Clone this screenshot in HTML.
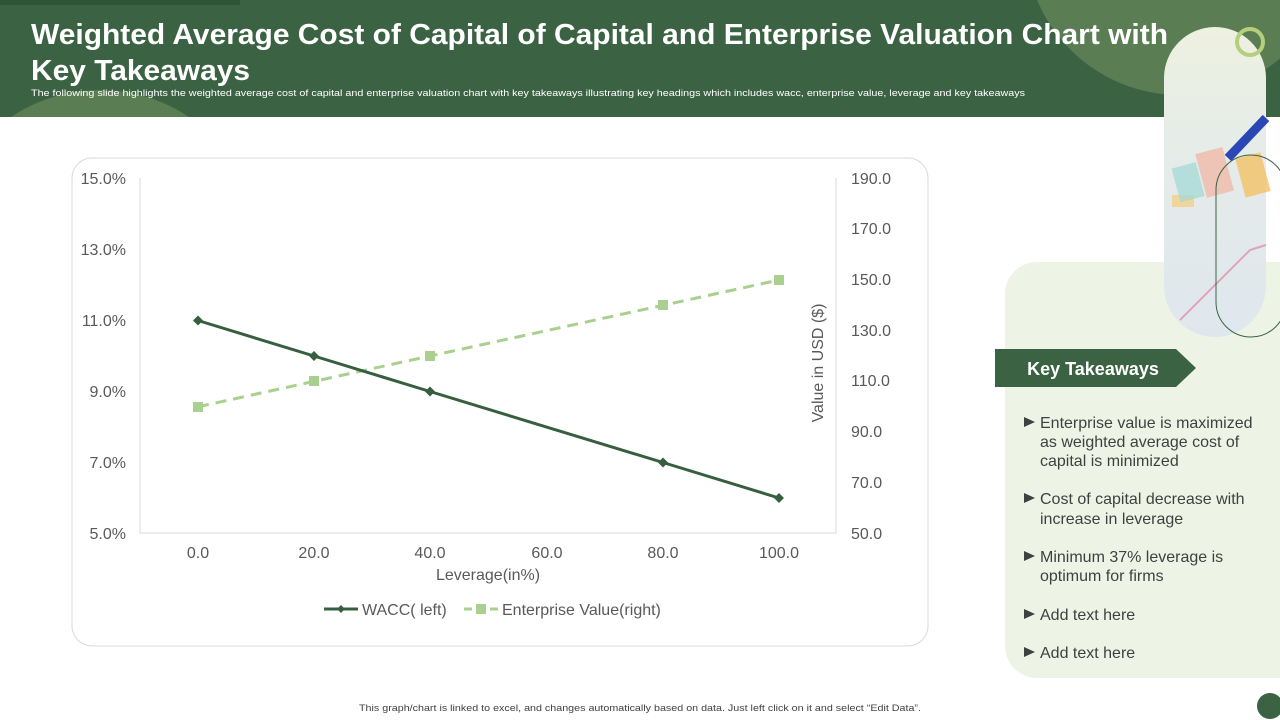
<!DOCTYPE html>
<html><head><meta charset="utf-8"><style>
html,body{margin:0;padding:0;width:1280px;height:720px;overflow:hidden;background:#fff;font-family:"Liberation Sans",sans-serif}
svg{display:block}
</style></head><body>
<svg width="1280" height="720" viewBox="0 0 1280 720" xmlns="http://www.w3.org/2000/svg" font-family="Liberation Sans, sans-serif">
<defs>
<clipPath id="hdr"><rect x="0" y="0" width="1280" height="117"/></clipPath>
<linearGradient id="img" x1="0" y1="0" x2="0" y2="1">
<stop offset="0" stop-color="#eef1e0"/><stop offset="0.35" stop-color="#e6ece8"/><stop offset="1" stop-color="#dfe7ee"/></linearGradient>
</defs>
<rect x="0" y="0" width="1280" height="117" fill="#3b6343"/>
<g clip-path="url(#hdr)">
<circle cx="100" cy="250" r="160" fill="#5a7d53"/>
<circle cx="1180" cy="-60" r="155" fill="#5a7d53"/>
</g>
<rect x="0" y="0" width="240" height="5" fill="#2f5538"/>
<text x="31" y="44" font-size="29" font-weight="bold" fill="#fff" textLength="1137" lengthAdjust="spacingAndGlyphs">Weighted Average Cost of Capital of Capital and Enterprise Valuation Chart with</text>
<text x="31" y="80" font-size="29" font-weight="bold" fill="#fff" textLength="219" lengthAdjust="spacingAndGlyphs">Key Takeaways</text>
<text x="31" y="96" font-size="9.5" fill="#fff" textLength="994" lengthAdjust="spacingAndGlyphs">The following slide highlights the weighted average cost of capital and enterprise valuation chart with key takeaways illustrating key headings which includes wacc, enterprise value, leverage and key takeaways</text>

<!-- right panel -->
<rect x="1005" y="262" width="320" height="416" rx="32" fill="#eef4e5"/>
<rect x="1164" y="27" width="102" height="310" rx="51" fill="url(#img)"/>
<rect x="1172" y="195" width="22" height="12" fill="#f3cf8a" opacity="0.8"/>
<rect x="1175" y="165" width="25" height="35" fill="#9fd8d4" opacity="0.7" transform="rotate(-15 1187 180)"/>
<rect x="1200" y="150" width="28" height="45" fill="#f1b49e" opacity="0.7" transform="rotate(-15 1214 170)"/>
<rect x="1240" y="155" width="26" height="40" fill="#f4c266" opacity="0.8" transform="rotate(-15 1253 175)"/>
<line x1="1228" y1="158" x2="1266" y2="118" stroke="#2a47b5" stroke-width="9"/>
<polyline points="1180,320 1220,280 1250,250 1266,245" fill="none" stroke="#e0a4b8" stroke-width="2"/>
<rect x="1216" y="155" width="70" height="182" rx="35" fill="none" stroke="#3b6343" stroke-width="1"/>
<circle cx="1250" cy="42" r="13" fill="none" stroke="#b5cf7a" stroke-width="4"/>
<polygon points="995,349 1176,349 1196,368 1176,387 995,387" fill="#3b6343"/>
<text x="1093" y="375" font-size="18" font-weight="bold" fill="#fff" text-anchor="middle">Key Takeaways</text>
<g font-size="16" fill="#404040">
<g fill="#404040">
<polygon points="1024,417 1035,422 1024,427"/>
<polygon points="1024,493 1035,498 1024,503"/>
<polygon points="1024,551 1035,556 1024,561"/>
<polygon points="1024,609 1035,614 1024,619"/>
<polygon points="1024,647 1035,652 1024,657"/>
</g>
<text x="1040" y="428">Enterprise value  is maximized</text>
<text x="1040" y="447">as weighted average cost of</text>
<text x="1040" y="466">capital is minimized</text>
<text x="1040" y="504">Cost of capital decrease with</text>
<text x="1040" y="524">increase in leverage</text>
<text x="1040" y="562">Minimum  37% leverage is</text>
<text x="1040" y="581">optimum for firms</text>
<text x="1040" y="620">Add text here</text>
<text x="1040" y="658">Add text here</text>
</g>
<circle cx="1270" cy="706" r="13" fill="#3b6343"/>

<!-- chart -->
<rect x="72" y="158" width="856" height="488" rx="20" fill="#fff" stroke="#d9d9d9" stroke-width="1"/>
<line x1="140" y1="178" x2="140" y2="533" stroke="#d9d9d9"/>
<line x1="836" y1="178" x2="836" y2="533" stroke="#d9d9d9"/>
<line x1="140" y1="533" x2="836" y2="533" stroke="#d9d9d9"/>
<g font-size="16" fill="#595959" text-anchor="end">
<text x="126" y="184">15.0%</text><text x="126" y="255">13.0%</text><text x="126" y="326">11.0%</text>
<text x="126" y="397">9.0%</text><text x="126" y="468">7.0%</text><text x="126" y="539">5.0%</text>
</g>
<g font-size="16" fill="#595959">
<text x="851" y="184">190.0</text><text x="851" y="234">170.0</text><text x="851" y="285">150.0</text>
<text x="851" y="336">130.0</text><text x="851" y="386">110.0</text><text x="851" y="437">90.0</text>
<text x="851" y="488">70.0</text><text x="851" y="539">50.0</text>
</g>
<g font-size="16" fill="#595959" text-anchor="middle">
<text x="198" y="558">0.0</text><text x="314" y="558">20.0</text><text x="430" y="558">40.0</text>
<text x="547" y="558">60.0</text><text x="663" y="558">80.0</text><text x="779" y="558">100.0</text>
<text x="488" y="580">Leverage(in%)</text>
<text transform="translate(823 363) rotate(-90)">Value in USD ($)</text>
</g>
<polyline points="198,406.8 314,381.4 430,356 663,305.3 779,280" fill="none" stroke="#a9d08e" stroke-width="3" stroke-dasharray="11,7"/>
<g fill="#a9d08e">
<rect x="193" y="402" width="10" height="10"/><rect x="309" y="376" width="10" height="10"/>
<rect x="425" y="351" width="10" height="10"/><rect x="658" y="300" width="10" height="10"/>
<rect x="774" y="275" width="10" height="10"/>
</g>
<polyline points="198,320.5 314,356 430,391.5 663,462.5 779,498" fill="none" stroke="#375e3f" stroke-width="3"/>
<g fill="#375e3f">
<polygon points="198,315.5 203,320.5 198,325.5 193,320.5"/>
<polygon points="314,351 319,356 314,361 309,356"/>
<polygon points="430,386.5 435,391.5 430,396.5 425,391.5"/>
<polygon points="663,457.5 668,462.5 663,467.5 658,462.5"/>
<polygon points="779,493 784,498 779,503 774,498"/>
</g>
<line x1="324" y1="609" x2="358" y2="609" stroke="#375e3f" stroke-width="3"/>
<polygon points="341,605 345,609 341,613 337,609" fill="#375e3f"/>
<text x="362" y="615" font-size="16" fill="#595959">WACC( left)</text>
<line x1="464" y1="609" x2="498" y2="609" stroke="#a9d08e" stroke-width="3" stroke-dasharray="8,5"/>
<rect x="476" y="604" width="10" height="10" fill="#a9d08e"/>
<text x="502" y="615" font-size="16" fill="#595959">Enterprise Value(right)</text>

<text x="359" y="711" font-size="9.5" fill="#404040" textLength="562" lengthAdjust="spacingAndGlyphs">This graph/chart is linked to excel, and changes automatically based on data. Just left click on it and select “Edit Data”.</text>
</svg>
</body></html>
